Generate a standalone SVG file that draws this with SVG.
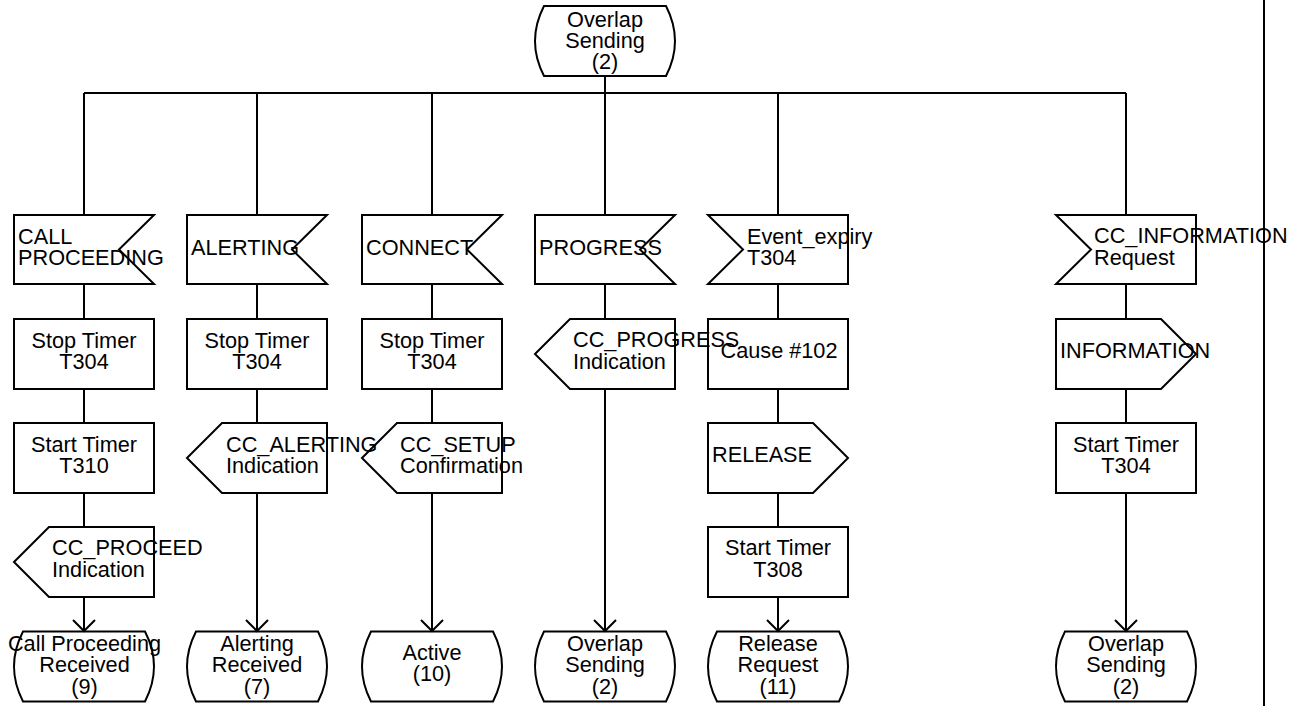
<svg xmlns="http://www.w3.org/2000/svg" width="1309" height="706" viewBox="0 0 1309 706">
<defs>
<style>
.s{fill:none;stroke:#000;stroke-width:2;stroke-linejoin:miter}
.l{fill:none;stroke:#000;stroke-width:2}
text{font-family:"Liberation Sans",Arial,sans-serif;font-size:21.7px;fill:#000}
.c{text-anchor:middle}
</style>
</defs>
<rect width="1309" height="706" fill="#fff"/>
<g id="connectors">
<line class="l" x1="1264" y1="0" x2="1264" y2="706"/>
<line class="l" x1="605" y1="76" x2="605" y2="93"/>
<line class="l" x1="84" y1="93" x2="1126" y2="93"/>
<path class="l" d="M84,93V215M84,284V319M84,389V423M84,493V527"/>
<path class="l" d="M257,93V215M257,284V319M257,389V423"/>
<path class="l" d="M432,93V215M432,284V319M432,389V423"/>
<path class="l" d="M605,93V215M605,284V319"/>
<path class="l" d="M778,93V215M778,284V319M778,389V423M778,493V527"/>
<path class="l" d="M1126,93V215M1126,284V319M1126,389V423"/>
<line class="l" x1="84" y1="597" x2="84" y2="631"/>
<path class="l" d="M73,620L84,631L95,620"/>
<line class="l" x1="257" y1="493" x2="257" y2="631"/>
<path class="l" d="M246,620L257,631L268,620"/>
<line class="l" x1="432" y1="493" x2="432" y2="631"/>
<path class="l" d="M421,620L432,631L443,620"/>
<line class="l" x1="605" y1="389" x2="605" y2="631"/>
<path class="l" d="M594,620L605,631L616,620"/>
<line class="l" x1="778" y1="597" x2="778" y2="631"/>
<path class="l" d="M767,620L778,631L789,620"/>
<line class="l" x1="1126" y1="493" x2="1126" y2="631"/>
<path class="l" d="M1115,620L1126,631L1137,620"/>
</g>
<g id="start">
<path class="s" d="M544,6H666Q684,41 666,76H544Q526,41 544,6Z"/>
<text class="c" x="605" y="27">Overlap</text>
<text class="c" x="605" y="48">Sending</text>
<text class="c" x="605" y="69">(2)</text>
</g>
<g id="in1">
<polygon class="s" points="14,215 154,215 119,249.5 154,284 14,284"/>
<text x="18" y="243.5">CALL</text>
<text x="18" y="264.5">PROCEEDING</text>
</g>
<g id="in2">
<polygon class="s" points="187,215 327,215 292,249.5 327,284 187,284"/>
<text x="191" y="254.5">ALERTING</text>
</g>
<g id="in3">
<polygon class="s" points="362,215 502,215 467,249.5 502,284 362,284"/>
<text x="366" y="254.5">CONNECT</text>
</g>
<g id="in4">
<polygon class="s" points="535,215 675,215 640,249.5 675,284 535,284"/>
<text x="539" y="254.5">PROGRESS</text>
</g>
<g id="in5">
<polygon class="s" points="708,215 848,215 848,284 708,284 743,249.5"/>
<text x="747" y="243.5">Event_expiry</text>
<text x="747" y="264.5">T304</text>
</g>
<g id="in6">
<polygon class="s" points="1056,215 1196,215 1196,284 1056,284 1091,249.5"/>
<text x="1094" y="243">CC_INFORMATION</text>
<text x="1094" y="264.5">Request</text>
</g>
<g id="t1a">
<rect class="s" x="14" y="319" width="140" height="70"/>
<text class="c" x="84" y="347.5">Stop Timer</text>
<text class="c" x="84" y="369">T304</text>
</g>
<g id="t2a">
<rect class="s" x="187" y="319" width="140" height="70"/>
<text class="c" x="257" y="347.5">Stop Timer</text>
<text class="c" x="257" y="369">T304</text>
</g>
<g id="t3a">
<rect class="s" x="362" y="319" width="140" height="70"/>
<text class="c" x="432" y="347.5">Stop Timer</text>
<text class="c" x="432" y="369">T304</text>
</g>
<g id="o4a">
<polygon class="s" points="535,354 570,319 675,319 675,389 570,389"/>
<text x="573" y="347">CC_PROGRESS</text>
<text x="573" y="368.5">Indication</text>
</g>
<g id="t5a">
<rect class="s" x="708" y="319" width="140" height="70"/>
<text class="c" x="779" y="357.5">Cause #102</text>
</g>
<g id="o6a">
<polygon class="s" points="1056,319 1161,319 1196,354 1161,389 1056,389"/>
<text x="1060" y="357.5">INFORMATION</text>
</g>
<g id="t1b">
<rect class="s" x="14" y="423" width="140" height="70"/>
<text class="c" x="84" y="451.5">Start Timer</text>
<text class="c" x="84" y="473">T310</text>
</g>
<g id="o2b">
<polygon class="s" points="187,458 222,423 327,423 327,493 222,493"/>
<text x="226" y="451.5">CC_ALERTING</text>
<text x="226" y="473">Indication</text>
</g>
<g id="o3b">
<polygon class="s" points="362,458 397,423 502,423 502,493 397,493"/>
<text x="400" y="451.5">CC_SETUP</text>
<text x="400" y="473">Confirmation</text>
</g>
<g id="o5b">
<polygon class="s" points="708,423 813,423 848,458 813,493 708,493"/>
<text x="712" y="461.5">RELEASE</text>
</g>
<g id="t6b">
<rect class="s" x="1056" y="423" width="140" height="70"/>
<text class="c" x="1126" y="451.5">Start Timer</text>
<text class="c" x="1126" y="473">T304</text>
</g>
<g id="o1c">
<polygon class="s" points="14,562 49,527 154,527 154,597 49,597"/>
<text x="52" y="555">CC_PROCEED</text>
<text x="52" y="577">Indication</text>
</g>
<g id="t5c">
<rect class="s" x="708" y="527" width="140" height="70"/>
<text class="c" x="778" y="555">Start Timer</text>
<text class="c" x="778" y="577">T308</text>
</g>
<g id="s1">
<path class="s" d="M23,631.5H145Q163,666.5 145,701.5H23Q5,666.5 23,631.5Z"/>
<text class="c" x="84.5" y="650.5">Call Proceeding</text>
<text class="c" x="84.5" y="672">Received</text>
<text class="c" x="84.5" y="694">(9)</text>
</g>
<g id="s2">
<path class="s" d="M196,631.5H318Q336,666.5 318,701.5H196Q178,666.5 196,631.5Z"/>
<text class="c" x="257" y="650.5">Alerting</text>
<text class="c" x="257" y="672">Received</text>
<text class="c" x="257" y="694">(7)</text>
</g>
<g id="s3">
<path class="s" d="M371,631.5H493Q511,666.5 493,701.5H371Q353,666.5 371,631.5Z"/>
<text class="c" x="432" y="659.5">Active</text>
<text class="c" x="432" y="680.5">(10)</text>
</g>
<g id="s4">
<path class="s" d="M544,631.5H666Q684,666.5 666,701.5H544Q526,666.5 544,631.5Z"/>
<text class="c" x="605" y="650.5">Overlap</text>
<text class="c" x="605" y="672">Sending</text>
<text class="c" x="605" y="694">(2)</text>
</g>
<g id="s5">
<path class="s" d="M717,631.5H839Q857,666.5 839,701.5H717Q699,666.5 717,631.5Z"/>
<text class="c" x="778" y="650.5">Release</text>
<text class="c" x="778" y="672">Request</text>
<text class="c" x="778" y="694">(11)</text>
</g>
<g id="s6">
<path class="s" d="M1065,631.5H1187Q1205,666.5 1187,701.5H1065Q1047,666.5 1065,631.5Z"/>
<text class="c" x="1126" y="650.5">Overlap</text>
<text class="c" x="1126" y="672">Sending</text>
<text class="c" x="1126" y="694">(2)</text>
</g>
</svg>
